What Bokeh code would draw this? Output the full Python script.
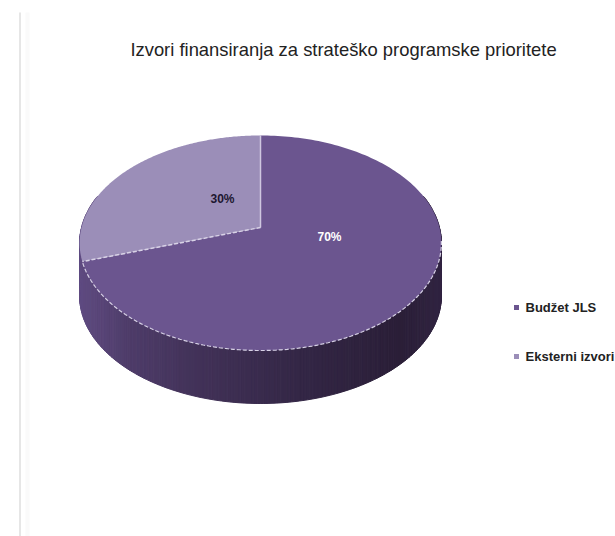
import numpy as np
from bokeh.core.properties import value
from bokeh.embed import file_html
from bokeh.models import Range1d
from bokeh.plotting import figure
from bokeh.resources import INLINE

title_text = "Izvori finansiranja za strateško programske prioritete"
categories = ["Budžet JLS", "Eksterni izvori"]
shares = [70, 30]
share_labels = ["70%", "30%"]
face_colors = ["#6b558f", "#9b8eb8"]
label_colors = ["#ffffff", "#1d1730"]

# Projected disc geometry in page pixels
APEX_X, APEX_Y = 260.0, 227.0
SCALE_X, SCALE_Y, TILT = 179.0, 105.3, 0.144
DEPTH = 53.0
WALL_STOPS_X = [78, 130, 200, 300, 400, 442]
WALL_STOPS_R = [96, 78, 66, 52, 43, 50]
WALL_STOPS_G = [76, 60, 50, 39, 31, 37]
WALL_STOPS_B = [130, 105, 88, 70, 56, 66]


def rim(frac):
    """Project a fraction of the turn (clockwise from 12 o'clock) onto the tilted disc."""
    a = np.pi / 2 - 2 * np.pi * np.asarray(frac, dtype=float)
    c, s = np.cos(a), np.sin(a)
    w = 1 + TILT * s
    return APEX_X + SCALE_X * c / w, APEX_Y - SCALE_Y * s / w


p = figure(width=615, height=536, output_backend="svg", toolbar_location=None,
           x_range=Range1d(0, 615), y_range=Range1d(536, 0), min_border=0,
           outline_line_color=None, background_fill_color="white")
p.axis.visible = False
p.grid.visible = False

# Faint frame edge on the left of the page
p.line([19.5, 19.5], [12, 536], line_color="#e6e6e6", line_width=2)
p.line([27, 27], [12, 536], line_color="#fafafa", line_width=4)

# Side wall, built from narrow quads shaded by horizontal position
steps = np.linspace(0.20, 0.80, 241)
rx, ry = rim(steps)
for i in range(len(steps) - 1):
    mid = (rx[i] + rx[i + 1]) / 2
    color = "#%02x%02x%02x" % (
        int(np.interp(mid, WALL_STOPS_X, WALL_STOPS_R)),
        int(np.interp(mid, WALL_STOPS_X, WALL_STOPS_G)),
        int(np.interp(mid, WALL_STOPS_X, WALL_STOPS_B)),
    )
    p.patch([rx[i], rx[i + 1], rx[i + 1], rx[i]],
            [ry[i], ry[i + 1], ry[i + 1] + DEPTH, ry[i] + DEPTH],
            fill_color=color, line_color=color, line_width=1)

# Top face slices
total = sum(shares)
start = 0.0
edges = [0.0]
for i, share in enumerate(shares):
    end = start + share / total
    fr = np.linspace(start, end, 200)
    x, y = rim(fr)
    p.patch(np.r_[APEX_X, x], np.r_[APEX_Y, y], fill_color=face_colors[i], line_color=None)
    edges.append(end)
    start = end

# Light separators and the dashed front rim
x_top, y_top = rim(edges[0])
x_cut, y_cut = rim(edges[1])
p.line([APEX_X, x_top], [APEX_Y, y_top], line_color="#cfc7e0", line_width=1.5)
p.line([APEX_X, x_cut], [APEX_Y, y_cut], line_color="#d8d2e6", line_width=1.5, line_dash="4 2")
fx, fy = rim(np.linspace(0.27, edges[1], 200))
p.line(fx, fy, line_color="#d8d2e6", line_width=1.2, line_dash="4 2")

# Percentage labels
label_x = [329, 222]
label_y = [236, 198]
for i, label in enumerate(share_labels):
    p.text([label_x[i]], [label_y[i]], text=[label],
           text_color=label_colors[i], text_font=value("Liberation Sans"), text_font_size="12px",
           text_font_style="bold", text_align="center", text_baseline="middle")

# Title
p.text([343], [49], text=[title_text], text_color="#222222",
       text_font=value("Liberation Sans"), text_font_size="18.4px",
       text_align="center", text_baseline="middle")

# Legend
legend_y = [307, 356]
p.scatter([516, 516], legend_y, marker="square", size=5, color=face_colors, line_color=None)
p.text([525, 525], legend_y, text=categories, text_color="#222222",
       text_font=value("Liberation Sans"), text_font_size="13px", text_font_style="bold",
       text_baseline="middle")

open("out.html", "w").write(file_html(p, INLINE))
